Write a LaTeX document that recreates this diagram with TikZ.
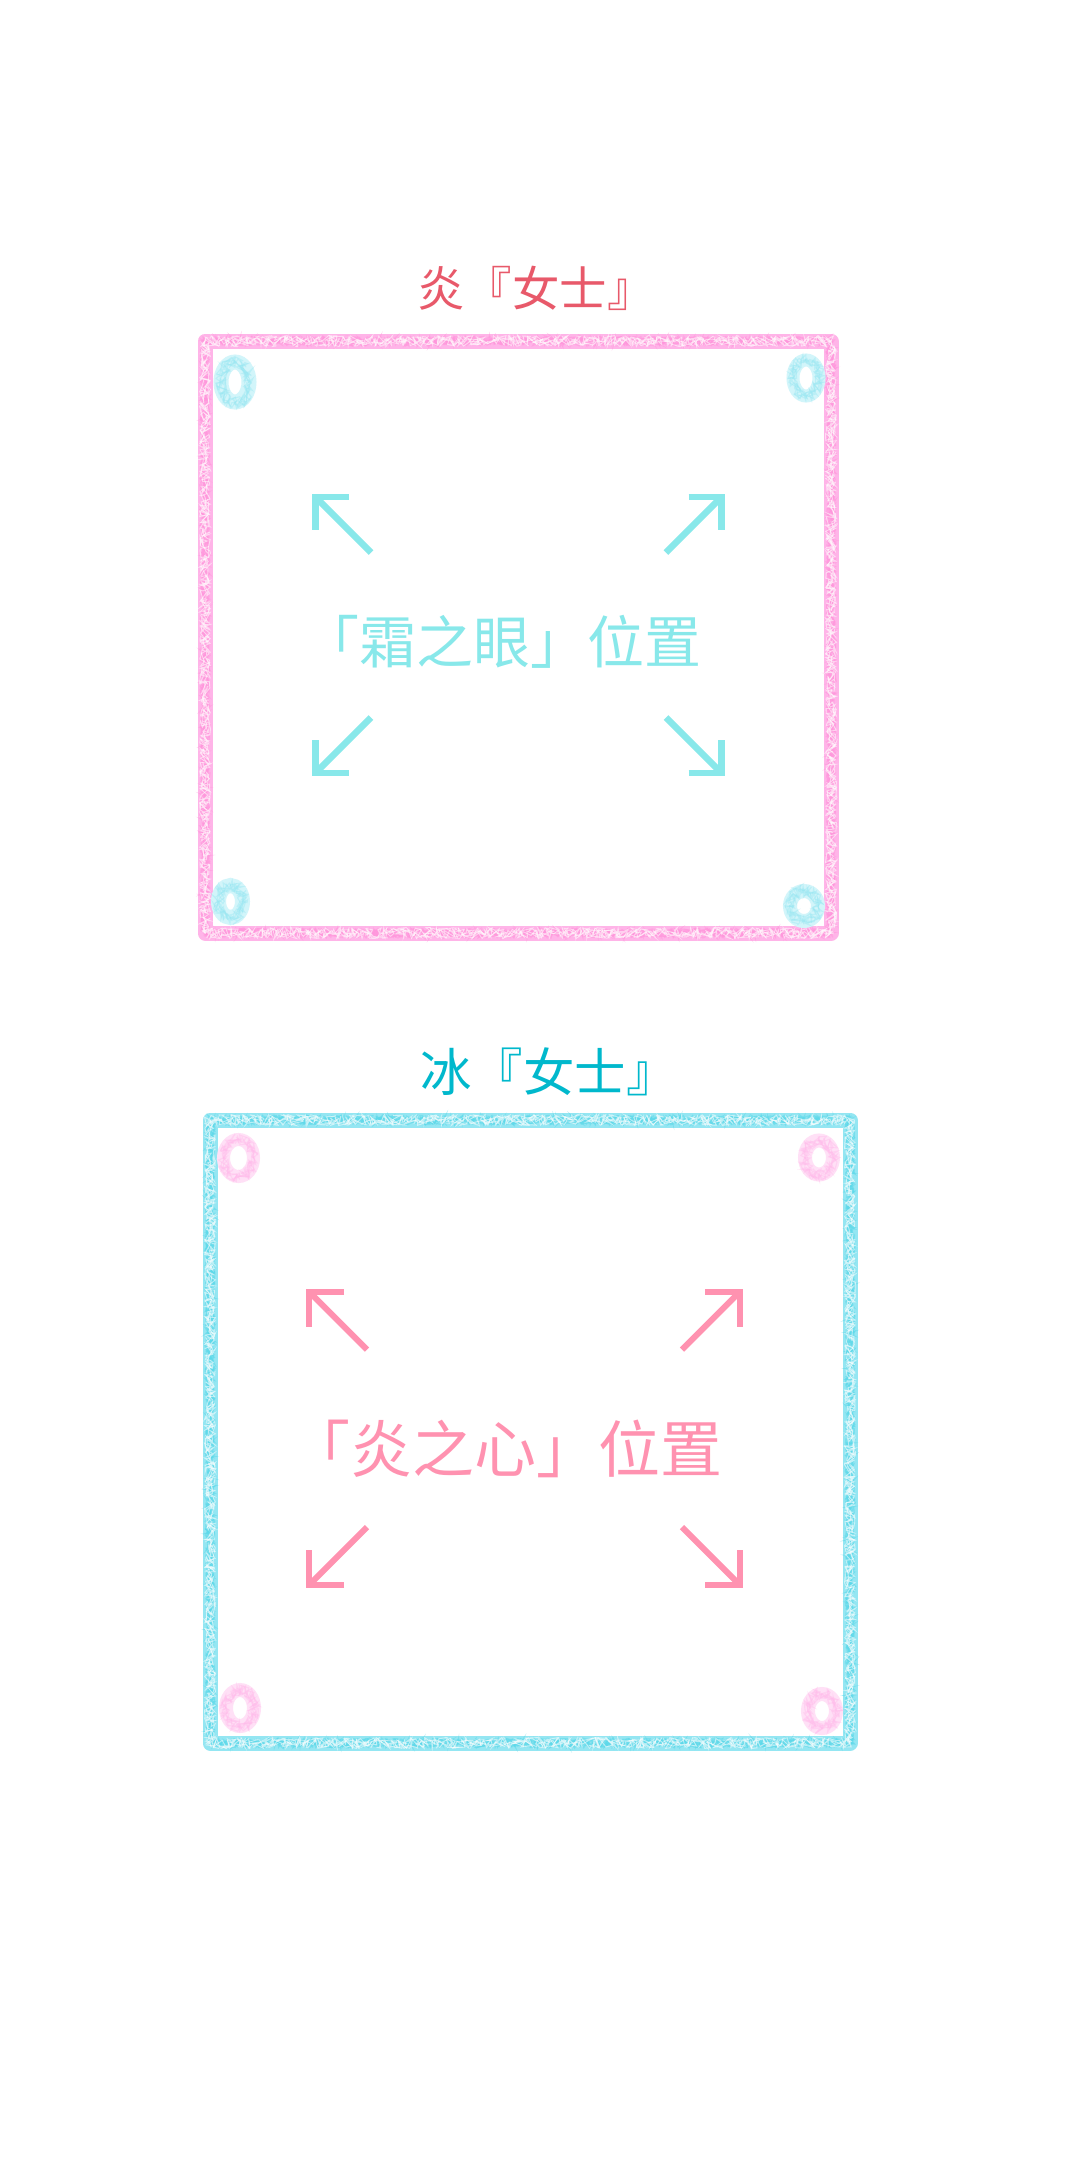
\documentclass[tikz,border=0pt]{standalone}
\usepackage{fontspec}
\newfontfamily\cjk{Noto Sans CJK SC}
\usetikzlibrary{decorations.pathmorphing}
\definecolor{titleRed}{HTML}{E8596A}
\definecolor{titleTeal}{HTML}{00B8CC}
\definecolor{arrCyan}{HTML}{88E8EA}
\definecolor{arrPink}{HTML}{FF92B0}
\definecolor{pinkBase}{HTML}{FFB4E8}
\definecolor{pinkDark}{HTML}{FF96DC}
\definecolor{cyanBase}{HTML}{94E6F2}
\definecolor{cyanDark}{HTML}{5CD9EA}
\definecolor{ringCyanBase}{HTML}{D2F5FA}
\definecolor{ringCyanDark}{HTML}{96E6F2}
\definecolor{ringPinkBase}{HTML}{FFE0F6}
\definecolor{ringPinkDark}{HTML}{FFB8EA}
\tikzset{
  crayonbase/.style={line width=15pt, line join=round, draw=#1},
  crayontex/.style={line width=1.3pt, draw=#1, opacity=0.5,
    decorate, decoration={random steps, segment length=2.2pt, amplitude=4.6pt}},
  crayonwhite/.style={line width=0.9pt, draw=white, opacity=0.55,
    decorate, decoration={random steps, segment length=2pt, amplitude=5.5pt}},
  arrowline/.style={line width=#1, line cap=butt, line join=miter},
  titletext/.style={inner sep=0pt, anchor=base},
}
\begin{document}
\begin{tikzpicture}[x=1pt, y=-1pt]
\pgfmathsetseed{7}
\useasboundingbox[fill=white] (0,0) rectangle (1080,2172);

% ---------- titles ----------
\node[titletext, text=titleRed] (t1) at (536,306) {\cjk\fontsize{47.5}{47.5}\selectfont 炎『女士』};
\node[titletext, text=titleTeal] (t2) at (549,1091) {\cjk\fontsize{51.5}{51.5}\selectfont 冰『女士』};

% ---------- box 1 (pink crayon) ----------
\draw[crayonbase=pinkBase] (205,341) rectangle (831,933);
\foreach \k in {1,...,6}{
  \draw[crayontex=pinkDark] (205,341) rectangle (831,933);
}
\foreach \k in {1,...,3}{
  \draw[crayonwhite] (205,341) rectangle (831,933);
}

% rings in box 1 (cyan)
\foreach \cx/\cy/\rx/\ry/\w in {235/382/14/20/15, 806/378/13/18/13, 230.5/901.5/12/16/15, 804/906/14/15/14}{
  \draw[line width=\w pt, draw=ringCyanBase] (\cx,\cy) ellipse [x radius=\rx, y radius=\ry];
  \foreach \k in {1,...,4}{
    \draw[line width=1.1pt, draw=ringCyanDark, opacity=0.4, decorate,
      decoration={random steps, segment length=2pt, amplitude=0.4*\w pt}]
      (\cx,\cy) ellipse [x radius=\rx, y radius=\ry];
  }
}

% arrows in box 1
\foreach \sx/\sy in {-1/-1, 1/-1, -1/1, 1/1}{
  \draw[arrowline=6.5pt, draw=arrCyan] ({518.5+\sx*203-\sx*33},{635+\sy*138}) -- ++({\sx*33},0) -- ++(0,{-\sy*33});
  \draw[arrowline=6.5pt, draw=arrCyan] ({518.5+\sx*203},{635+\sy*138}) -- ++({-\sx*55.5},{-\sy*55.5});
}
\node[titletext, text=arrCyan] (l1) at (502,663.5) {\cjk\fontsize{57}{57}\selectfont 「霜之眼」位置};

% ---------- box 2 (cyan crayon) ----------
\draw[crayonbase=cyanBase] (210,1120) rectangle (850,1743);
\foreach \k in {1,...,6}{
  \draw[crayontex=cyanDark] (210,1120) rectangle (850,1743);
}
\foreach \k in {1,...,3}{
  \draw[crayonwhite] (210,1120) rectangle (850,1743);
}

% rings in box 2 (pink)
\foreach \cx/\cy/\rx/\ry/\w in {238.5/1158/15/18.5/13, 819/1157.5/14/17/14, 240/1708/14/18/14, 822/1711/14/17/14}{
  \draw[line width=\w pt, draw=ringPinkBase] (\cx,\cy) ellipse [x radius=\rx, y radius=\ry];
  \foreach \k in {1,...,4}{
    \draw[line width=1.1pt, draw=ringPinkDark, opacity=0.4, decorate,
      decoration={random steps, segment length=2pt, amplitude=0.4*\w pt}]
      (\cx,\cy) ellipse [x radius=\rx, y radius=\ry];
  }
}

% arrows in box 2
\foreach \sx/\sy in {-1/-1, 1/-1, -1/1, 1/1}{
  \draw[arrowline=6pt, draw=arrPink] ({524.5+\sx*215.5-\sx*35},{1438.3+\sy*146.7}) -- ++({\sx*35},0) -- ++(0,{-\sy*35});
  \draw[arrowline=6pt, draw=arrPink] ({524.5+\sx*215.5},{1438.3+\sy*146.7}) -- ++({-\sx*58},{-\sy*58});
}
\node[titletext, text=arrPink] (l2) at (505,1472.6) {\cjk\fontsize{62}{62}\selectfont 「炎之心」位置};
\end{tikzpicture}
\end{document}
